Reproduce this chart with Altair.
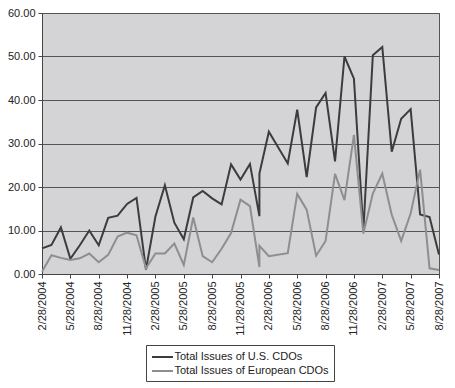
import altair as alt
import pandas as pd

# Month of each observation (one month reported twice, one month missing)
dates = [
    "2/28/2004", "3/28/2004", "4/28/2004", "5/28/2004", "6/28/2004", "7/28/2004",
    "8/28/2004", "9/28/2004", "10/28/2004", "11/28/2004", "12/28/2004",
    "1/28/2005", "2/28/2005", "3/28/2005", "4/28/2005", "5/28/2005", "6/28/2005",
    "7/28/2005", "8/28/2005", "9/28/2005", "10/28/2005", "11/28/2005", "12/28/2005",
    "1/28/2006", "1/28/2006", "2/28/2006", "4/28/2006", "5/28/2006", "6/28/2006",
    "7/28/2006", "8/28/2006", "9/28/2006", "10/28/2006", "11/28/2006", "12/28/2006",
    "1/28/2007", "2/28/2007", "3/28/2007", "4/28/2007", "5/28/2007", "6/28/2007",
    "7/28/2007", "8/28/2007",
]
us_cdos = [
    5.9, 6.7, 10.7, 3.5, 6.6, 10.0, 6.6, 12.9, 13.4, 16.1, 17.5,
    1.0, 13.2, 20.4, 11.8, 8.0, 17.6, 19.1, 17.4, 16.0, 25.2, 21.7, 25.3,
    13.3, 23.1, 32.7, 25.4, 37.8, 22.3, 38.3, 41.6, 25.9, 50.0, 44.9, 10.0,
    50.3, 52.2, 28.1, 35.7, 37.9, 13.7, 13.1, 4.5,
]
eu_cdos = [
    0.5, 4.3, 3.7, 3.2, 3.6, 4.7, 2.7, 4.4, 8.6, 9.5, 8.9,
    1.3, 4.7, 4.7, 7.0, 2.1, 13.0, 4.1, 2.7, 5.8, 9.4, 17.1, 15.6,
    1.6, 6.5, 4.1, 4.8, 18.4, 14.8, 4.2, 7.6, 23.0, 17.0, 32.0, 9.3,
    18.5, 23.1, 13.6, 7.6, 13.9, 24.0, 1.3, 0.9,
]
tick_labels = [
    "2/28/2004", "5/28/2004", "8/28/2004", "11/28/2004", "2/28/2005",
    "5/28/2005", "8/28/2005", "11/28/2005", "2/28/2006", "5/28/2006",
    "8/28/2006", "11/28/2006", "2/28/2007", "5/28/2007", "8/28/2007",
]
series_names = ["Total Issues of U.S. CDOs", "Total Issues of European CDOs"]
y_ticks = [0, 10, 20, 30, 40, 50, 60]


def month_index(s):
    m, _, y = s.split("/")
    return (int(y) - 2004) * 12 + int(m) - 2


rows = []
for name, vals in zip(series_names, [us_cdos, eu_cdos]):
    for seq, (d, v) in enumerate(zip(dates, vals)):
        rows.append({"series": name, "idx": month_index(d), "seq": seq, "value": v, "date": d})
df = pd.DataFrame(rows)

tick_idx = [month_index(t) for t in tick_labels]
label_expr = "[" + ",".join("'%s'" % t for t in tick_labels) + "][round(datum.value/3)]"

FONT = "Liberation Sans"

chart = (
    alt.Chart(df)
    .mark_line(strokeWidth=2)
    .encode(
        x=alt.X(
            "idx:Q",
            scale=alt.Scale(domain=[0, 42], nice=False, zero=False),
            axis=alt.Axis(
                values=tick_idx, labelExpr=label_expr, labelAngle=270, title=None,
                grid=False, tickSize=4, labelPadding=3, labelFlush=False,
                labelOverlap=False,
            ),
        ),
        y=alt.Y(
            "value:Q",
            scale=alt.Scale(domain=[0, 60], nice=False),
            axis=alt.Axis(
                values=y_ticks, format=".2f", title=None, grid=True,
                gridColor="#555555", gridWidth=1, tickSize=4, labelPadding=3,
            ),
        ),
        color=alt.Color(
            "series:N",
            scale=alt.Scale(domain=series_names, range=["#3c3c3c", "#8e8e8e"]),
            sort=series_names,
            legend=alt.Legend(
                title=None, orient="none", legendX=104, legendY=332,
                symbolType="M-1.75,0H1.75", symbolSize=144, symbolStrokeWidth=2,
                symbolOffset=4.5, labelOffset=5, padding=5, rowPadding=2,
                strokeColor="#444444", fillColor="white",
                labelFont=FONT, labelFontSize=11, labelColor="#222222",
            ),
        ),
        order=alt.Order("seq:Q"),
    )
    .properties(
        width=397, height=261,
        autosize=alt.AutoSizeParams(type="none"),
        padding={"left": 34, "top": 5, "right": 8, "bottom": 110},
        background="white",
    )
    .configure_view(fill="#d4d4d6", stroke="#555555", strokeWidth=1)
    .configure_axis(
        labelFont=FONT, labelFontSize=11, labelColor="#222222",
        domainColor="#444444", tickColor="#444444",
    )
)

chart.save("out.html", embed_options={"renderer": "svg", "actions": False})
